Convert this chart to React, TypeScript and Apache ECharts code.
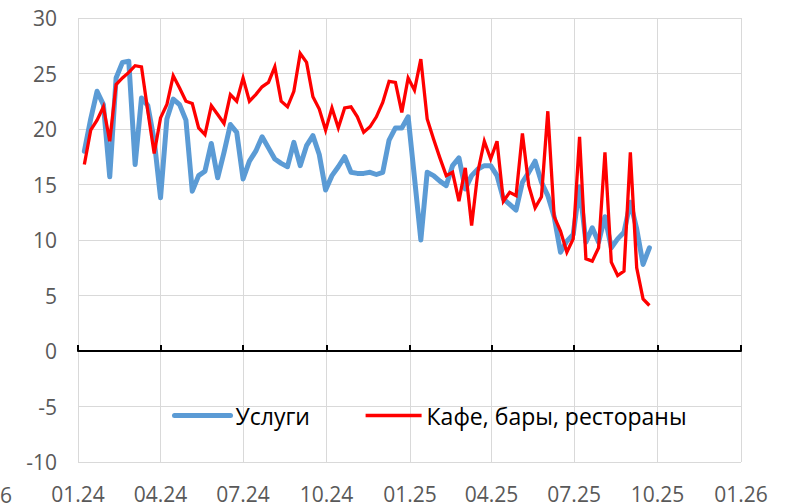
import { useEffect, useRef } from "react";
import * as echarts from "echarts";

// Weekly observations, first week starting 2024-01-08
const firstWeek = "2024-01-08";

const seriesNames = ["Услуги", "Кафе, бары, рестораны"];

const services = [
  18.0, 20.9, 23.4, 22.2, 15.7, 24.6, 26.0, 26.1, 16.8, 22.8,
  22.1, 19.0, 13.8, 20.9, 22.7, 22.2, 20.8, 14.4, 15.8, 16.2,
  18.7, 15.6, 17.9, 20.4, 19.7, 15.5, 17.1, 18.0, 19.3, 18.3,
  17.3, 16.9, 16.6, 18.8, 16.7, 18.5, 19.4, 17.7, 14.5, 15.8,
  16.6, 17.5, 16.1, 16.0, 16.0, 16.1, 15.9, 16.1, 19.0, 20.1,
  20.1, 21.1, 15.6, 10.0, 16.1, 15.8, 15.3, 14.9, 16.7, 17.4,
  14.6, 15.8, 16.4, 16.7, 16.7, 15.8, 13.7, 13.2, 12.7, 15.2,
  16.1, 17.1, 15.2, 14.0, 12.1, 8.9, 9.9, 10.5, 14.8, 9.8,
  11.1, 9.8, 12.1, 9.3, 10.1, 10.7, 13.4, 11.0, 7.8, 9.3,
];

const cafes = [
  16.8, 19.9, 20.8, 22.0, 18.9, 24.0, 24.6, 25.1, 25.7, 25.6,
  21.6, 17.8, 21.0, 22.2, 24.8, 23.7, 22.5, 22.3, 20.1, 19.5,
  22.1, 21.3, 20.5, 23.1, 22.5, 24.6, 22.5, 23.1, 23.8, 24.2,
  25.6, 22.5, 22.0, 23.4, 26.8, 26.0, 22.9, 21.8, 19.9, 21.9,
  20.1, 21.9, 22.0, 21.1, 19.7, 20.2, 21.1, 22.4, 24.3, 24.2,
  21.5, 24.6, 23.5, 26.3, 20.9, 19.1, 17.4, 15.8, 16.1, 13.5,
  16.5, 11.3, 16.2, 18.9, 17.3, 18.9, 13.5, 14.3, 14.0, 19.6,
  14.9, 12.9, 13.9, 21.6, 12.1, 10.8, 8.9, 10.1, 19.3, 8.3,
  8.1, 9.3, 17.9, 8.0, 6.8, 7.2, 17.9, 7.5, 4.7, 4.1,
];

const tickDates = [
  "2024-01-01", "2024-04-01", "2024-07-01", "2024-10-01",
  "2025-01-01", "2025-04-01", "2025-07-01", "2025-10-01", "2026-01-01",
];
const tickLabels = ["01.24", "04.24", "07.24", "10.24", "01.25", "04.25", "07.25", "10.25", "01.26"];

const yMin = -10;
const yMax = 30;
const yStep = 5;

const DAY = 86400000;
const origin = Date.parse(tickDates[0]);
const toDay = (s: string) => Math.round((Date.parse(s) - origin) / DAY);
const tickDays = tickDates.map(toDay);
const startDay = toDay(firstWeek);
const weekDays = services.map((_, i) => startDay + 7 * i);

const FONT = "'Open Sans'";
const BLUE = "#5B9BD5";
const RED = "#FF0000";

export default function App() {
  const ref = useRef<HTMLDivElement>(null);
  useEffect(() => {
    document.body.style.margin = "0";
    const chart = echarts.init(ref.current!, null, { renderer: "svg" });
    const labelFor = (v: number) => {
      const idx = tickDays.indexOf(Math.round(v));
      return idx >= 0 ? tickLabels[idx] : "";
    };
    chart.setOption({
      animation: false,
      textStyle: { fontFamily: FONT },
      grid: { left: 78, right: 54, top: 18, bottom: 41 },
      xAxis: [
        {
          type: "value",
          min: tickDays[0],
          max: tickDays[tickDays.length - 1],
          position: "bottom",
          axisLine: { show: true, onZero: true, lineStyle: { color: "#000", width: 2 } },
          axisTick: {
            show: true,
            inside: true,
            length: 6,
            customValues: tickDays,
            lineStyle: { color: "#000", width: 2 },
          },
          axisLabel: { show: false },
          splitLine: { show: true, lineStyle: { color: "#D9D9D9", width: 1 } },
        },
        {
          type: "value",
          min: tickDays[0],
          max: tickDays[tickDays.length - 1],
          position: "bottom",
          axisLine: { show: false, onZero: false },
          axisTick: { show: false },
          axisLabel: {
            show: true,
            customValues: tickDays,
            formatter: labelFor,
            margin: 21,
            fontSize: 21,
            color: "#595959",
            fontFamily: FONT,
          },
          splitLine: { show: false },
        },
      ],
      yAxis: {
        type: "value",
        min: yMin,
        max: yMax,
        interval: yStep,
        axisLine: { show: false },
        axisTick: { show: false },
        axisLabel: { margin: 21, fontSize: 21, color: "#595959", fontFamily: FONT },
        splitLine: { show: true, lineStyle: { color: "#D9D9D9", width: 1 } },
      },
      legend: {
        left: 172,
        top: 404,
        padding: 0,
        itemWidth: 56,
        itemHeight: 20,
        itemGap: 54,
        itemStyle: { opacity: 0 },
        textStyle: { fontSize: 23, color: "#000", fontFamily: FONT },
        data: [
          { name: seriesNames[0], lineStyle: { width: 5, cap: "round", color: BLUE } },
          { name: seriesNames[1], lineStyle: { width: 3.3, color: RED } },
        ],
      },
      graphic: [
        {
          type: "text",
          left: 0,
          top: 484,
          style: { text: "6", fontSize: 21, fill: "#595959", fontFamily: FONT },
        },
      ],
      series: [
        {
          name: seriesNames[0],
          type: "line",
          xAxisIndex: 0,
          symbol: "none",
          data: weekDays.map((d, i) => [d, services[i]]),
          lineStyle: { color: BLUE, width: 5, cap: "round", join: "round" },
          itemStyle: { color: BLUE },
          z: 2,
        },
        {
          name: seriesNames[1],
          type: "line",
          xAxisIndex: 0,
          symbol: "none",
          data: weekDays.map((d, i) => [d, cafes[i]]),
          lineStyle: { color: RED, width: 3.3, join: "miter" },
          itemStyle: { color: RED },
          z: 3,
        },
      ],
    });
    return () => chart.dispose();
  }, []);
  return <div ref={ref} style={{ width: 795, height: 504 }} />;
}
